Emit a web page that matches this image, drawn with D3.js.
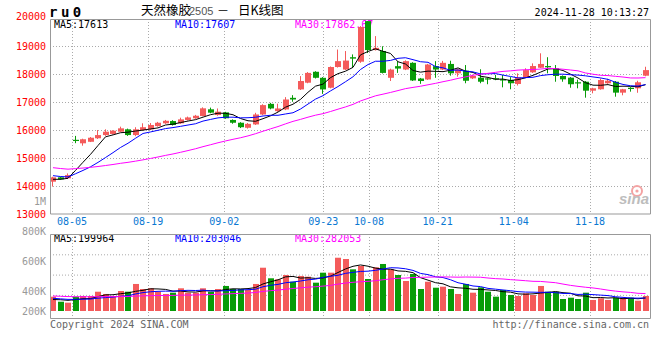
<!DOCTYPE html>
<html>
<head>
<meta charset="utf-8">
<script src="https://cdn.jsdelivr.net/npm/d3@7"></script>
<style>
body { margin: 0; background: #fff; }
svg { display: block; }
text { font-family: "DejaVu Sans Mono", monospace; font-size: 10px; }
</style>
</head>
<body>
<svg width="660" height="360"></svg>
<script>
// trading days shown (ru0, 2024-07-31 .. 2024-11-28)
const dates = [
  "07-31","08-01","08-02","08-05","08-06","08-07","08-08","08-09","08-12","08-13",
  "08-14","08-15","08-16","08-19","08-20","08-21","08-22","08-23","08-26","08-27",
  "08-28","08-29","08-30","09-02","09-03","09-04","09-05","09-06","09-09","09-10",
  "09-11","09-12","09-13","09-18","09-19","09-20","09-23","09-24","09-25","09-26",
  "09-27","09-30","10-08","10-09","10-10","10-11","10-14","10-15","10-16","10-17",
  "10-18","10-21","10-22","10-23","10-24","10-25","10-28","10-29","10-30","10-31",
  "11-01","11-04","11-05","11-06","11-07","11-08","11-11","11-12","11-13","11-14",
  "11-15","11-18","11-19","11-20","11-21","11-22","11-25","11-26","11-27","11-28"
];

const open = [
  14165,14320,14285,15660,15535,15590,15715,15830,15870,15950,
  16035,15830,16010,16035,16150,16250,16330,16250,16370,16430,
  16510,16750,16545,16640,16370,16270,16090,16210,16565,16945,
  16685,16745,17160,17460,17700,18090,17875,17520,18260,18170,
  18610,18450,19900,18865,18830,17875,18290,18170,18410,17850,
  17815,18290,18170,18370,18035,18130,17855,17880,17855,17860,
  17820,17800,17655,17890,18070,18235,18295,18215,17940,17880,
  17715,17735,17415,17465,17680,17735,17345,17520,17500,17950
];
const close = [
  14320,14250,14400,15640,15680,15735,15830,15950,15985,16070,
  15830,16035,16110,16190,16270,16340,16190,16390,16460,16520,
  16785,16630,16665,16430,16270,16110,16230,16565,16900,16780,
  16780,17100,17100,17760,18050,17875,17460,18260,18470,18490,
  18560,19690,18865,18945,18050,18170,18205,18470,17780,17760,
  18350,18170,18410,18035,18180,17770,17940,17735,17820,17850,
  17800,17680,17890,18150,18295,18370,18250,17940,17820,17645,
  17680,17415,17500,17795,17770,17345,17465,17475,17715,18150
];
const high = [
  14340,14340,14460,15800,15700,15760,16010,16035,16000,16130,
  16060,16110,16250,16260,16300,16370,16360,16450,16490,16550,
  16820,16810,16780,16660,16390,16290,16260,16625,16930,16980,
  16950,17185,17255,17935,18080,18110,17900,18280,18885,18830,
  18710,19720,19900,19365,19000,18200,18470,18500,18430,17870,
  18370,18470,18480,18485,18200,18330,17990,18180,17870,17980,
  17975,17900,18035,18215,18390,18750,18610,18330,17960,17900,
  17810,17760,17520,17850,17840,17760,17480,17540,17770,18270
];
const low = [
  13990,14230,14270,15540,15450,15580,15690,15800,15850,15940,
  15800,15790,15990,16010,16130,16230,16170,16230,16350,16410,
  16500,16610,16520,16410,16235,16080,16060,16190,16540,16750,
  16660,16720,17020,17440,17680,17850,17300,17500,18240,18150,
  18230,18410,18760,18850,18030,17760,18050,18150,17760,17660,
  17800,17875,18150,17950,17915,17680,17830,17680,17645,17790,
  17535,17465,17600,17870,18050,18220,18035,17735,17735,17520,
  17500,17165,17320,17450,17660,17200,17250,17380,17340,17930
];
const volume = [
  222000,144000,129000,222000,233000,233000,299000,264000,233000,310000,
  299000,419000,341000,352000,299000,264000,284000,352000,284000,284000,
  352000,299000,341000,388000,341000,341000,326000,419000,671000,507000,
  491000,558000,454000,543000,532000,439000,594000,594000,826000,806000,
  646000,698000,496000,677000,729000,646000,558000,465000,574000,341000,
  454000,361000,377000,341000,264000,419000,284000,367000,299000,222000,
  326000,248000,233000,274000,248000,388000,299000,299000,186000,206000,
  186000,284000,171000,197000,171000,206000,206000,206000,160000,233000
];

// sessions before the window, only used to seed the moving averages
const priorClose = [
  15150,15100,15020,15080,14980,14950,14900,14870,14820,14780,
  14760,14720,14700,14680,14650,14640,14620,14600,14580,14550,
  14560,14540,14510,14490,14450,14250,14220,14230,14230
];
const priorVolume = [
  270000,260000,280000,250000,265000,240000,255000,245000,260000,250000,
  235000,245000,250000,240000,255000,245000,235000,240000,250000,230000,
  230000,210000,220000,205000,215000,160000,175000,165000,168000
];

const dateTicks = ["08-05","08-19","09-02","09-23","10-08","10-21","11-04","11-18"];
const priceTicks = [20000,19000,18000,17000,16000,15000,14000,13000];
const volTickValues = [1000000,800000,600000,400000,200000];
const volTickLabels = ["1M","800K","600K","400K","200K"];

const priceLegend = ["MA5:17613","MA10:17607","MA30:17862.67"];
const volLegend = ["MA5:199964","MA10:203046","MA30:282053"];
const maPeriods = [5, 10, 30];
const maColors = ["#000000", "#0000ff", "#ff00ff"];

const RED = "#f45b5b", GREEN = "#089c08";
const GRID = "#aaaaaa", FRAME = "#999999";

const svg = d3.select("svg");

const left = 50, right = 650;
const pTop = 19, pBottom = 213.5;
const vTop = 234, vBottom = 318, vBase = 311;

const x = d3.scaleBand().domain(dates).range([49.25, 649.25]);
const xc = d => Math.round(x(d) + x.bandwidth() / 2);
// sina spaces its date grid a little wider than the candles
const xg = d3.scaleLinear().domain([0, dates.length - 1]).range([49.1, 650.9]);

const yP = d3.scaleLinear().domain([13000, 20000]).range([214.3, 18.3]);
const yV = d3.scaleLinear().domain([0, 1200000]).range([vBase, 233.6]);
const yVLab = d3.scaleLinear().domain([1000000, 400000]).range([201, 291]);

function movingAvg(prior, vals, n) {
    const all = prior.concat(vals);
    return vals.map((v, i) => d3.mean(all.slice(prior.length + i - n + 1, prior.length + i + 1)));
}

svg.append("defs").append("clipPath").attr("id", "clipP")
    .append("rect").attr("x", left).attr("y", pTop).attr("width", right - left).attr("height", pBottom - pTop);
svg.select("defs").append("clipPath").attr("id", "clipV")
    .append("rect").attr("x", left).attr("y", vTop).attr("width", right - left).attr("height", vBottom - vTop);

// header
svg.append("text").attr("x", 49).attr("y", 12).attr("dy", "0.35em")
    .style("font-size", "14px").style("font-weight", "bold").style("letter-spacing", "3.5px")
    .text("ru0");
const title = svg.append("g").style("font-family", "'Noto Sans CJK SC', sans-serif");
title.append("text").attr("x", 141).attr("y", 11).attr("dy", "0.35em")
    .style("font-family", "'Noto Sans CJK SC'").style("font-size", "12.5px").text("天然橡胶");
title.append("text").attr("x", 189).attr("y", 11.5).attr("dy", "0.35em")
    .style("font-family", "'Liberation Sans', sans-serif").style("font-size", "11px").attr("fill", "#555").text("2505");
title.append("text").attr("x", 223).attr("y", 11).attr("dy", "0.35em").attr("text-anchor", "middle")
    .style("font-family", "'Noto Sans CJK SC'").style("font-size", "12px").text("－");
title.append("text").attr("x", 238).attr("y", 11).attr("dy", "0.35em")
    .style("font-family", "'Noto Sans CJK SC'").style("font-size", "12.5px").text("日K线图");
svg.append("text").attr("x", 649).attr("y", 12).attr("dy", "0.35em").attr("text-anchor", "end")
    .text("2024-11-28 10:13:27");

// price axis labels
svg.append("g").selectAll("text").data(priceTicks).join("text")
    .attr("x", 46).attr("y", d => yP(d) - (d === 20000 ? 1.5 : 0)).attr("dy", "0.35em")
    .attr("text-anchor", "end").attr("fill", "#ff0000").text(d => d);

// volume axis labels (sina draws them on its own spacing)
svg.append("g").selectAll("text").data(volTickValues).join("text")
    .attr("x", 46).attr("y", d => Math.min(yVLab(d), vBase)).attr("dy", "0.35em")
    .attr("text-anchor", "end").attr("fill", "#999").text((d, i) => volTickLabels[i]);

// grids
const grid = svg.append("g").attr("stroke", GRID).attr("stroke-dasharray", "1,2");
grid.selectAll(".hp").data(priceTicks.filter(d => d < 20000 && d > 13000)).join("line")
    .attr("x1", left).attr("x2", right)
    .attr("y1", d => Math.round(yP(d)) + 0.5).attr("y2", d => Math.round(yP(d)) + 0.5);
grid.selectAll(".hv").data([1, 2, 3]).join("line")
    .attr("x1", left).attr("x2", right)
    .attr("y1", d => vTop + d * 20.3 + 0.5).attr("y2", d => vTop + d * 20.3 + 0.5);
const tickIdx = dateTicks.map(t => dates.indexOf(t));
grid.selectAll(".vp").data(tickIdx).join("line")
    .attr("x1", i => Math.round(xg(i)) + 0.5).attr("x2", i => Math.round(xg(i)) + 0.5)
    .attr("y1", pTop).attr("y2", pBottom);
grid.selectAll(".vv").data(tickIdx).join("line")
    .attr("x1", i => Math.round(xg(i)) + 0.5).attr("x2", i => Math.round(xg(i)) + 0.5)
    .attr("y1", vTop).attr("y2", vBottom + 2);

// date labels
svg.append("g").selectAll("text").data(dateTicks).join("text")
    .attr("x", d => xg(dates.indexOf(d))).attr("y", 221).attr("dy", "0.35em")
    .attr("text-anchor", "middle").attr("fill", "#0a78d2").text(d => d);

// price legend (candles are drawn over it)
const legX = [54, 175, 295];
svg.append("g").selectAll("text").data(priceLegend).join("text")
    .attr("x", (d, i) => legX[i]).attr("y", 24.5).attr("dy", "0.35em")
    .attr("fill", (d, i) => maColors[i]).text(d => d);
svg.append("g").selectAll("text").data(volLegend).join("text")
    .attr("x", (d, i) => legX[i]).attr("y", 238.5).attr("dy", "0.35em")
    .attr("fill", (d, i) => maColors[i]).text(d => d);

// sina logo
const logo = svg.append("g");
logo.append("circle").attr("cx", 637).attr("cy", 191).attr("r", 5)
    .attr("fill", "none").attr("stroke", "#f3a3a3").attr("stroke-width", 2);
logo.append("circle").attr("cx", 637).attr("cy", 191).attr("r", 1.6).attr("fill", "#f3a3a3");
logo.append("text").attr("x", 619).attr("y", 204)
    .style("font-family", "'Liberation Sans', sans-serif").style("font-size", "15px")
    .style("font-weight", "bold").style("font-style", "italic")
    .attr("fill", "#bdbdbd").text("sina");

// candles
const candles = svg.append("g").attr("clip-path", "url(#clipP)")
    .selectAll("g").data(dates).join("g");
candles.append("line")
    .attr("x1", d => xc(d) - 0.5).attr("x2", d => xc(d) - 0.5)
    .attr("y1", (d, i) => yP(high[i])).attr("y2", (d, i) => yP(low[i]))
    .attr("stroke", (d, i) => close[i] >= open[i] ? RED : GREEN);
candles.append("rect")
    .attr("x", d => xc(d) - 3).attr("width", 6)
    .attr("y", (d, i) => yP(Math.max(open[i], close[i])))
    .attr("height", (d, i) => Math.max(1.2, Math.abs(yP(open[i]) - yP(close[i]))))
    .attr("fill", (d, i) => close[i] >= open[i] ? RED : GREEN);

// price moving averages
const linePrice = d3.line().x((d, i) => x(dates[i]) + x.bandwidth() / 2).y(d => yP(d));
svg.append("g").attr("clip-path", "url(#clipP)").selectAll("path").data(maPeriods).join("path")
    .attr("d", n => linePrice(movingAvg(priorClose, close, n)))
    .attr("fill", "none").attr("stroke", (n, i) => maColors[i]).attr("stroke-width", 1);

// volume bars
svg.append("g").selectAll("rect").data(dates).join("rect")
    .attr("x", d => xc(d) - 3).attr("width", 6)
    .attr("y", (d, i) => yV(volume[i]))
    .attr("height", (d, i) => vBase - yV(volume[i]))
    .attr("fill", (d, i) => close[i] >= open[i] ? RED : GREEN);

const lineVol = d3.line().x((d, i) => x(dates[i]) + x.bandwidth() / 2).y(d => yV(d));
svg.append("g").attr("clip-path", "url(#clipV)").selectAll("path").data(maPeriods).join("path")
    .attr("d", n => lineVol(movingAvg(priorVolume, volume, n)))
    .attr("fill", "none").attr("stroke", (n, i) => maColors[i]).attr("stroke-width", 1);

// frames
svg.append("path")
    .attr("d", `M${left + 0.5},${pTop + 0.5}H${right + 0.5}V${pBottom + 0.5}H${left + 0.5}Z`)
    .attr("fill", "none").attr("stroke", FRAME);
svg.append("path")
    .attr("d", `M${left + 0.5},${vTop + 0.5}H${right + 0.5}V${vBottom + 0.5}H${left + 0.5}Z`)
    .attr("fill", "none").attr("stroke", FRAME);

// footer
svg.append("text").attr("x", 50).attr("y", 324).attr("dy", "0.35em").attr("fill", "#666")
    .text("Copyright 2024 SINA.COM");
svg.append("text").attr("x", 649).attr("y", 324).attr("dy", "0.35em").attr("fill", "#666")
    .attr("text-anchor", "end").text("http://finance.sina.com.cn");
</script>
</body>
</html>
